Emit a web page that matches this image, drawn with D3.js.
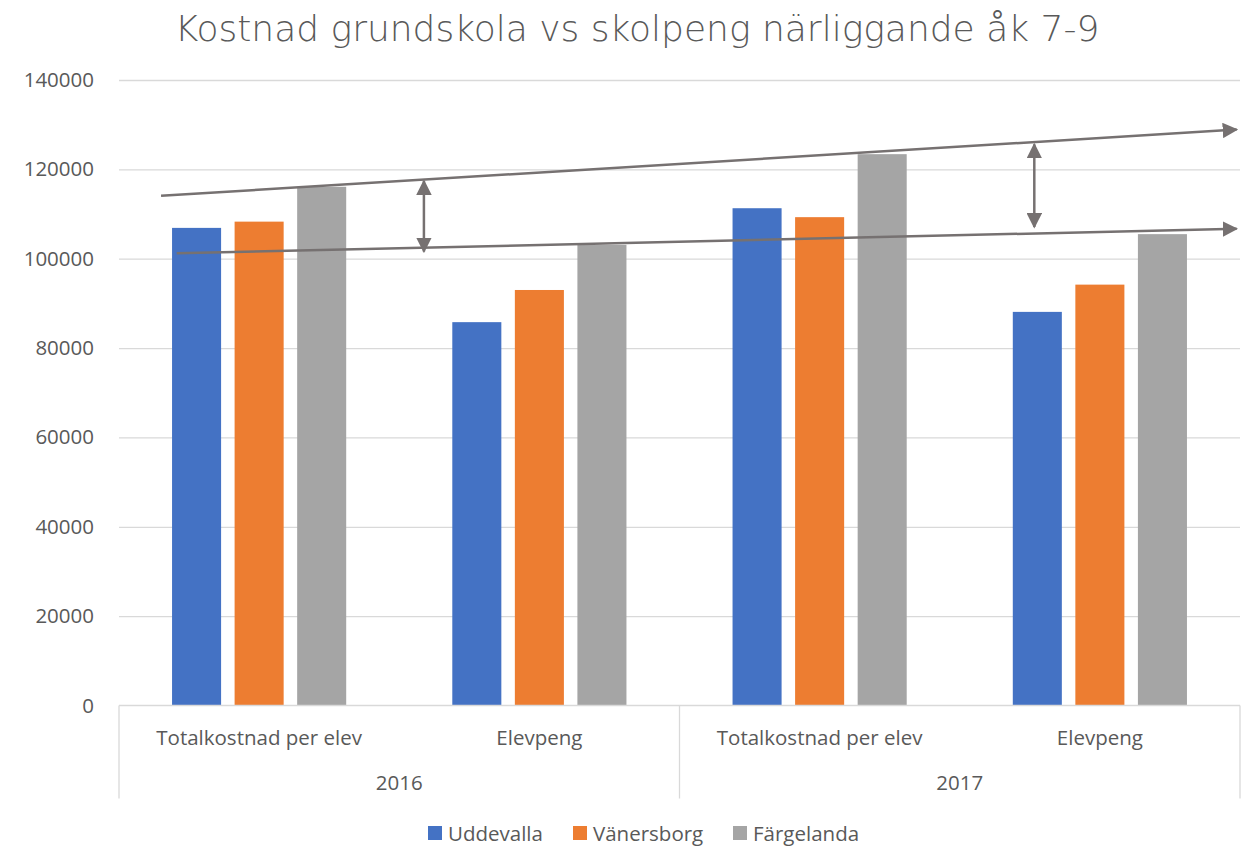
<!DOCTYPE html>
<html>
<head>
<meta charset="utf-8">
<script src="https://cdn.jsdelivr.net/npm/d3@7"></script>
<style>
  body { margin: 0; background: #fff; }
  text { font-family: "Open Sans", "Liberation Sans", sans-serif; fill: #595959; }
</style>
</head>
<body>
<div id="chart"></div>
<script>
// data
var years = ["2016", "2017"];
var measures = ["Totalkostnad per elev", "Elevpeng"];
var series = ["Uddevalla", "Vänersborg", "Färgelanda"];
var colors = ["#4472c4", "#ed7d31", "#a5a5a5"];
var uddevalla = [106900, 85800, 111300, 88100];
var vanersborg = [108300, 93000, 109300, 94200];
var fargelanda = [116100, 103100, 123400, 105500];
var yTicks = [0, 20000, 40000, 60000, 80000, 100000, 120000, 140000];

// trend arrows drawn on top (x as share of plot width, y in kr)
var trendLines = [
  {x1: 0.0375, y1: 114100, x2: 0.997, y2: 128900},
  {x1: 0.0515, y1: 101200, x2: 0.997, y2: 106700}
];
var gapArrows = [
  {x: 0.272, top: 117400, bottom: 101600},
  {x: 0.8165, top: 125600, bottom: 107100}
];

var margin = {top: 80, right: 10, bottom: 140.5, left: 119};
var width = 1250 - margin.left - margin.right;
var height = 846 - margin.top - margin.bottom;
var fs = "20.5px";

var svg = d3.select("#chart")
  .append("svg")
    .attr("width", 1250)
    .attr("height", 846);

svg.append("text")
  .attr("x", 637)
  .attr("y", 41)
  .attr("text-anchor", "middle")
  .style("font-family", "'DejaVu Sans', sans-serif")
  .style("font-weight", "200")
  .style("font-size", "36px")
  .text("Kostnad grundskola vs skolpeng närliggande åk 7-9");

var g = svg.append("g")
  .attr("transform", "translate(" + margin.left + "," + margin.top + ")");

var cats = [];
years.forEach(function(yr) {
  measures.forEach(function(m) { cats.push(yr + "|" + m); });
});
var rows = cats.map(function(c, i) {
  return {cat: c, values: [uddevalla[i], vanersborg[i], fargelanda[i]]};
});

var x0 = d3.scaleBand().domain(cats).range([0, width]).padding(0);
var x1 = d3.scaleBand().domain(series).range([0, x0.bandwidth()])
  .paddingInner(0.216).paddingOuter(0.848);
var y = d3.scaleLinear().domain([0, 140000]).range([height, 0]);
var xf = d3.scaleLinear().domain([0, 1]).range([0, width]);

// gridlines + y labels
var yAxis = g.append("g")
  .call(d3.axisLeft(y).tickValues(yTicks).tickSize(-width).tickFormat(d3.format("d")));
yAxis.select(".domain").remove();
yAxis.selectAll(".tick line").attr("stroke", "#d9d9d9").attr("stroke-width", 1.3);
yAxis.selectAll(".tick text")
  .attr("x", -25)
  .style("font-size", fs)
  .attr("fill", "#595959");
yAxis.selectAll(".tick").filter(function(d) { return d === 0; }).select("line").remove();

// bars
var groups = g.selectAll(".grp")
  .data(rows)
  .enter().append("g")
    .attr("transform", function(d) { return "translate(" + x0(d.cat) + ",0)"; });
groups.selectAll("rect")
  .data(function(d) { return d.values.map(function(v, i) { return {s: series[i], v: v, c: colors[i]}; }); })
  .enter().append("rect")
    .attr("x", function(d) { return x1(d.s); })
    .attr("y", function(d) { return y(d.v); })
    .attr("width", x1.bandwidth())
    .attr("height", function(d) { return height - y(d.v); })
    .attr("fill", function(d) { return d.c; });

// category axis box
var axisCol = "#d9d9d9";
g.append("line").attr("x1", 0).attr("x2", width).attr("y1", height).attr("y2", height)
  .attr("stroke", axisCol).attr("stroke-width", 1.3);
var sepX = [0, x0(cats[2]), width];
sepX.forEach(function(sx) {
  g.append("line").attr("x1", sx).attr("x2", sx).attr("y1", height).attr("y2", height + 93)
    .attr("stroke", axisCol).attr("stroke-width", 1.3);
});
rows.forEach(function(r) {
  g.append("text")
    .attr("x", x0(r.cat) + x0.bandwidth() / 2)
    .attr("y", height + 39)
    .attr("text-anchor", "middle")
    .style("font-size", fs)
    .text(r.cat.split("|")[1]);
});
years.forEach(function(yr, i) {
  g.append("text")
    .attr("x", x0(cats[i * 2]) + x0.bandwidth())
    .attr("y", height + 84)
    .attr("text-anchor", "middle")
    .style("font-size", fs)
    .text(yr);
});

// annotation arrows
var arrowCol = "#767171";
var defs = svg.append("defs");
defs.append("marker")
  .attr("id", "head")
  .attr("viewBox", "0 0 10 10")
  .attr("refX", 9).attr("refY", 5)
  .attr("markerWidth", 6.2).attr("markerHeight", 6.2)
  .attr("orient", "auto-start-reverse")
  .append("path").attr("d", "M0,0 L10,5 L0,10 Z").attr("fill", arrowCol);

trendLines.forEach(function(t) {
  g.append("line")
    .attr("x1", xf(t.x1)).attr("y1", y(t.y1))
    .attr("x2", xf(t.x2)).attr("y2", y(t.y2))
    .attr("stroke", arrowCol).attr("stroke-width", 2.5)
    .attr("marker-end", "url(#head)");
});
gapArrows.forEach(function(a) {
  g.append("line")
    .attr("x1", xf(a.x)).attr("y1", y(a.top))
    .attr("x2", xf(a.x)).attr("y2", y(a.bottom))
    .attr("stroke", arrowCol).attr("stroke-width", 2.5)
    .attr("marker-start", "url(#head)")
    .attr("marker-end", "url(#head)");
});

// legend
var legX = [428, 573, 733];
var legend = svg.append("g");
series.forEach(function(s, i) {
  legend.append("rect")
    .attr("x", legX[i]).attr("y", 826)
    .attr("width", 14).attr("height", 14)
    .attr("fill", colors[i]);
  legend.append("text")
    .attr("x", legX[i] + 20).attr("y", 841)
    .style("font-size", fs)
    .text(s);
});
</script>
</body>
</html>
